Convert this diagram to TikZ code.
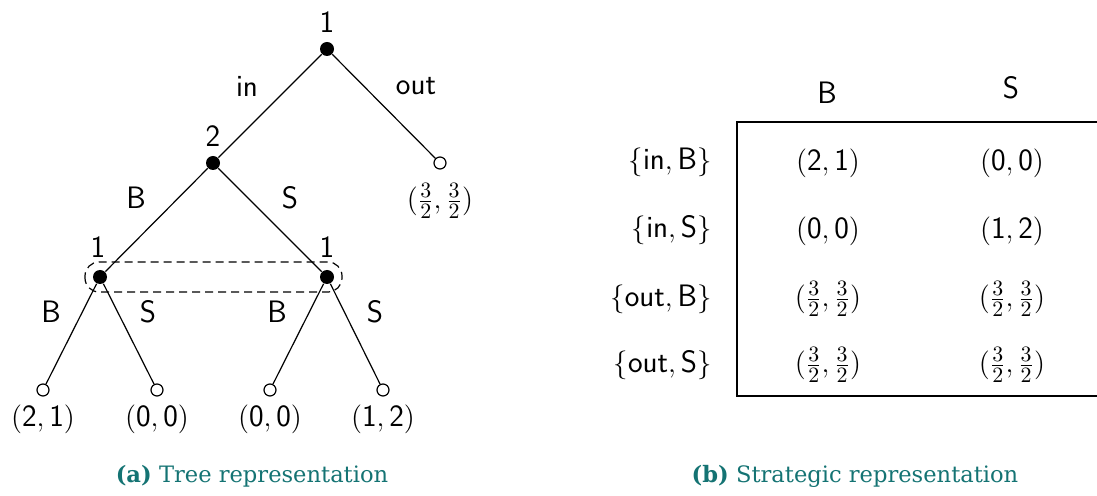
\documentclass[tikz,border=0pt]{standalone}
\usepackage{fontspec}
\newfontfamily\capfont{DejaVu Serif}
\definecolor{capteal}{RGB}{20,115,115}
\newcommand\pair[2]{$(\mathsf{#1},\mathsf{#2})$}
\newcommand\half{$(\frac{3}{2},\frac{3}{2})$}
\tikzset{
  dec/.style={circle,fill,inner sep=0pt,minimum size=7pt},
  term/.style={circle,draw,fill=white,inner sep=0pt,minimum size=6pt},
  lab/.style={font=\sffamily\fontsize{15.5}{18}\selectfont,inner sep=0pt},
  pay/.style={font=\fontsize{15.5}{18}\selectfont,inner sep=0pt},
  caption/.style={font=\capfont\fontsize{11.3}{13}\selectfont,text=capteal,inner sep=0pt}
}
\begin{document}
\begin{tikzpicture}[x=0.5pt,y=-0.5pt,line width=0.6pt]
\useasboundingbox (0,0) rectangle (1097,496);

% tree
\node[dec](root) at (327,49){};
\node[dec](p2) at (213,163){};
\node[term](outleaf) at (440,163){};
\node[dec](left1) at (100,277){};
\node[dec](right1) at (327,277){};
\node[term](lf1) at (43,390){};
\node[term](lf2) at (157,390){};
\node[term](lf3) at (270,390){};
\node[term](lf4) at (383,390){};

\draw(root)--(p2);
\draw(root)--(outleaf);
\draw(p2)--(left1);
\draw(p2)--(right1);
\draw(left1)--(lf1);
\draw(left1)--(lf2);
\draw(right1)--(lf3);
\draw(right1)--(lf4);

% information set
\draw[dash pattern=on 4pt off 2.5pt,rounded corners=7pt]
  ([xshift=-7.5pt,yshift=7.5pt]left1.center) rectangle ([xshift=7.5pt,yshift=-7.5pt]right1.center);

% players
\node[lab](plroot) at (327,22){1};
\node[lab](plp2) at (213,136){2};
\node[lab](plleft) at (98,247){1};
\node[lab](plright) at (327,247){1};

% actions
\node[lab](actin) at (247,86){in};
\node[lab](actout) at (416,86){out};
\node[lab](actb) at (136,198){B};
\node[lab](acts) at (290,198){S};
\node[lab](actlb) at (51,312){B};
\node[lab](actls) at (148,312){S};
\node[lab](actrb) at (277,312){B};
\node[lab](actrs) at (375,312){S};

% payoffs
\node[pay](payout) at (440,201){\half};
\node[pay](pay1) at (43,419){\pair{2}{1}};
\node[pay](pay2) at (157,419){\pair{0}{0}};
\node[pay](pay3) at (270,419){\pair{0}{0}};
\node[pay](pay4) at (383,419){\pair{1}{2}};

% strategic form
\coordinate(tl) at (737,122);
\coordinate(tr) at (1097,122);
\coordinate(bl) at (737,396);
\coordinate(br) at (1097,396);
\draw(tr)--(tl)--(bl)--(br);

\node[lab](colb) at (827,93){B};
\node[lab](cols) at (1011,88){S};

\node[lab,anchor=east](rowib) at (712,162){$\{\textsf{in},\textsf{B}\}$};
\node[lab,anchor=east](rowis) at (712,230){$\{\textsf{in},\textsf{S}\}$};
\node[lab,anchor=east](rowob) at (712,299){$\{\textsf{out},\textsf{B}\}$};
\node[lab,anchor=east](rowos) at (712,365){$\{\textsf{out},\textsf{S}\}$};

\node[pay](c11) at (828,163){\pair{2}{1}};
\node[pay](c12) at (1012,163){\pair{0}{0}};
\node[pay](c21) at (828,231){\pair{0}{0}};
\node[pay](c22) at (1012,231){\pair{1}{2}};
\foreach \r/\y in {3/299,4/365}{
  \node[pay](c\r1) at (828,\y){\half};
  \node[pay](c\r2) at (1012,\y){\half};
}

% captions
\node[caption](capa) at (252,476){\textbf{(a)}\ Tree representation};
\node[caption](capb) at (855,476){\textbf{(b)}\ Strategic representation};
\end{tikzpicture}
\end{document}
